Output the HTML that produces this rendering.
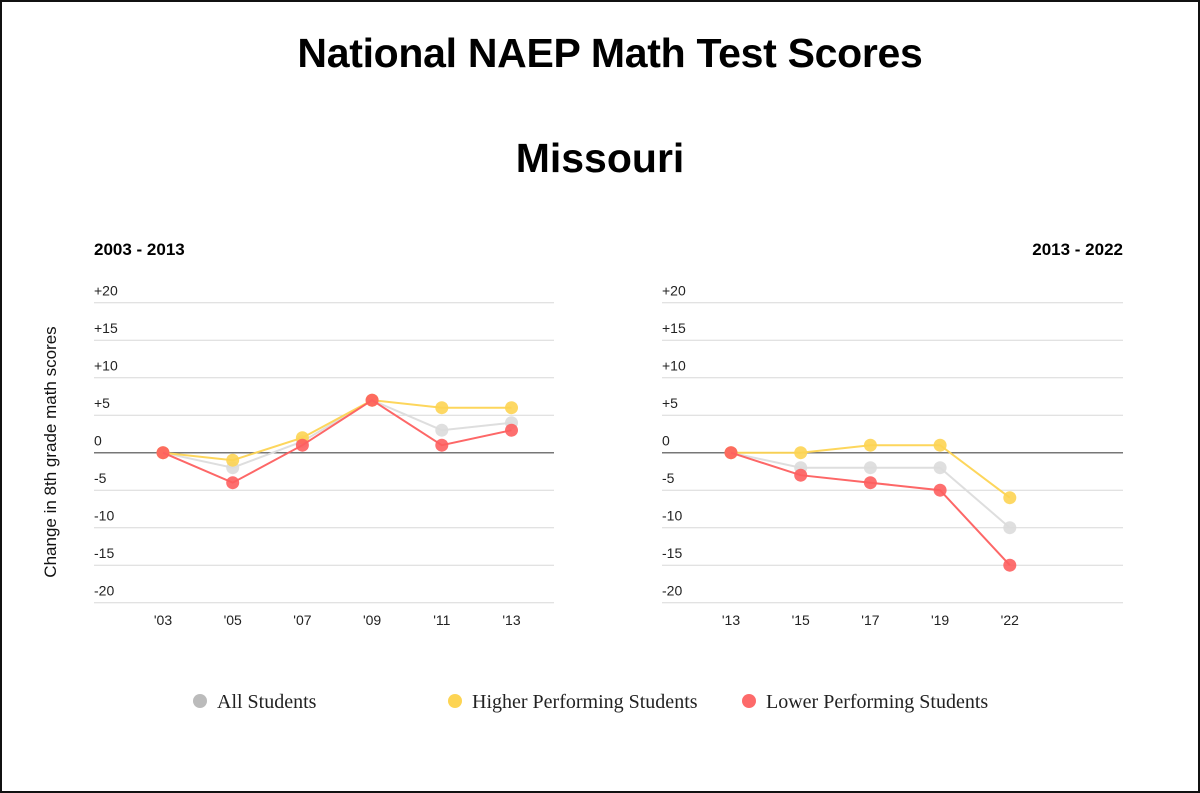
<!DOCTYPE html>
<html><head><meta charset="utf-8"><style>
body{margin:0;background:#fff;}
#wrap{position:relative;width:1200px;height:793px;box-sizing:border-box;border:2px solid #111;background:#fff;overflow:hidden;}
.t{position:absolute;left:-2px;width:1200px;text-align:center;font-family:"Liberation Sans",sans-serif;font-weight:bold;color:#000;}
svg{position:absolute;left:-2px;top:-2px;}
</style></head><body>
<div id="wrap">
<div class="t" style="top:28px;left:8px;font-size:41px;letter-spacing:-0.3px">National NAEP Math Test Scores</div>
<div class="t" style="top:133px;font-size:41px">Missouri</div>
<svg id="svg" width="1200" height="793"></svg>
</div>
<script>
const leftCats=["'03","'05","'07","'09","'11","'13"];
const leftAll=[0,-2,1.5,7,3,4];
const leftHigh=[0,-1,2,7,6,6];
const leftLow=[0,-4,1,7,1,3];
const rightCats=["'13","'15","'17","'19","'22"];
const rightAll=[0,-2,-2,-2,-10];
const rightHigh=[0,0,1,1,-6];
const rightLow=[0,-3,-4,-5,-15];
const yTicks=[20,15,10,5,0,-5,-10,-15,-20];
const yTickLabels=["+20","+15","+10","+5","0","-5","-10","-15","-20"];
const legendLabels=["All Students","Higher Performing Students","Lower Performing Students"];

const NS="http://www.w3.org/2000/svg";
const svg=document.getElementById('svg');
function mk(tag,attrs,parent){const e=document.createElementNS(NS,tag);for(const k in attrs)e.setAttribute(k,attrs[k]);(parent||svg).appendChild(e);return e;}
function y(v){return 452.7-v*7.5;}
const colors={all:"#dcdcdc",high:"#fdd453",low:"#fd5f5f"};
function panel(x0,x1,firstX,cats,all,high,low,title,titleAnchor,name){
  const g=mk('g',{});
  
  
  const x=i=>firstX+i*69.7;
  const tt=mk('text',{x:titleAnchor==='start'?x0:x1,y:255,'text-anchor':titleAnchor,'font-family':'Liberation Sans, sans-serif','font-weight':'bold','font-size':17,fill:'#000'},g);
  tt.textContent=title;
  
  
  yTicks.forEach((v,i)=>{
    const l=mk('line',{x1:x0,x2:x1,y1:y(v),y2:y(v),stroke:v===0?'#777':'#d8d8d8','stroke-width':v===0?1.5:1},g);
    
    
    const t=mk('text',{x:x0,y:y(v)-7,'font-family':'Liberation Sans, sans-serif','font-size':14,fill:'#222'},g);
    t.textContent=yTickLabels[i];
    
    
  });
  cats.forEach((c,i)=>{
    const t=mk('text',{x:x(i),y:625,'text-anchor':'middle','font-family':'Liberation Sans, sans-serif','font-size':14,fill:'#222'},g);
    t.textContent=c;
    
    
  });
  [['all',all],['high',high],['low',low]].forEach(([k,arr])=>{
    const p=mk('polyline',{points:arr.map((v,i)=>x(i)+','+y(v)).join(' '),fill:'none',stroke:colors[k],'stroke-width':2,opacity:0.95},g);
    
    
    arr.forEach((v,i)=>{
      const c=mk('circle',{cx:x(i),cy:y(v),r:6.5,fill:colors[k],opacity:0.9},g);
      
      
    });
  });
}
panel(94,554,163,leftCats,leftAll,leftHigh,leftLow,"2003 - 2013",'start','left-panel');
panel(662,1123,731,rightCats,rightAll,rightHigh,rightLow,"2013 - 2022",'end','right-panel');
const yt=mk('text',{x:0,y:0,transform:'translate(56,452) rotate(-90)','text-anchor':'middle','font-family':'Liberation Sans, sans-serif','font-size':17,fill:'#111'});
yt.textContent="Change in 8th grade math scores";


const lx=[200,455,749],lc=['#bbbbbb','#fdd453','#fd6a6a'];
legendLabels.forEach((s,i)=>{
  const c=mk('circle',{cx:lx[i],cy:701,r:7,fill:lc[i]});
  
  
  const t=mk('text',{x:lx[i]+17,y:708,'font-family':'Liberation Serif, serif','font-size':20,fill:'#222'});
  t.textContent=s;
  
  
});
</script>
</body></html>
